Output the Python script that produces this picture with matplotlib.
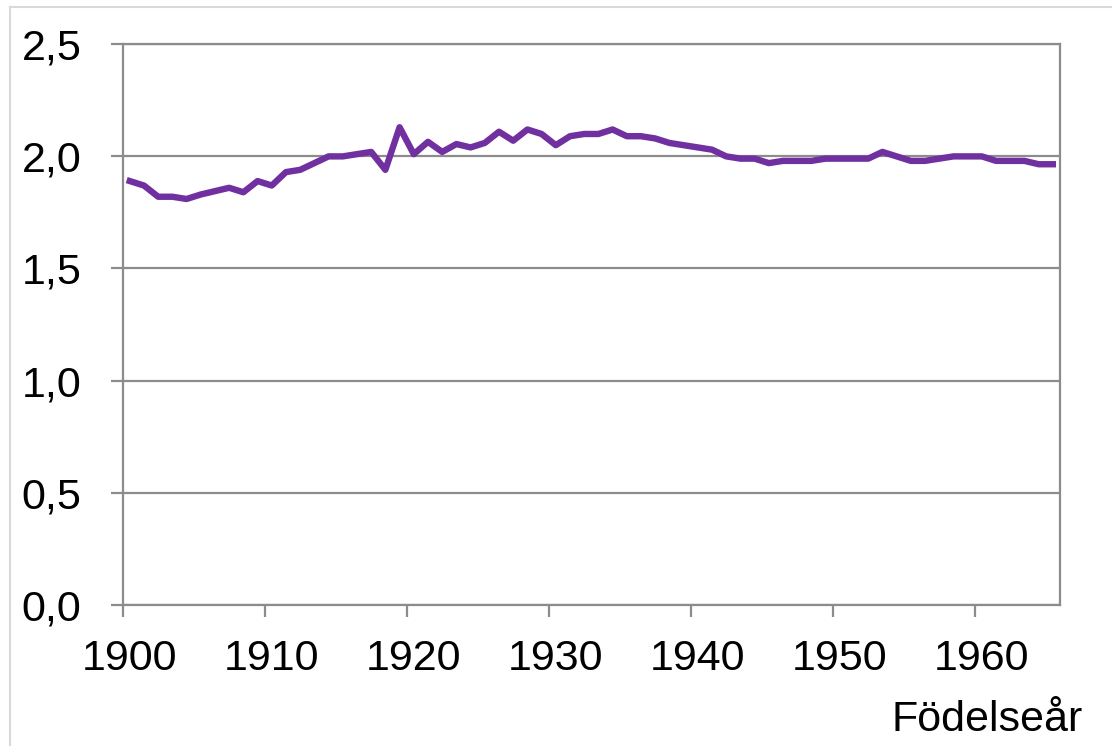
import matplotlib.pyplot as plt
import numpy as np
from matplotlib.lines import Line2D
from matplotlib.ticker import FuncFormatter
from matplotlib.transforms import ScaledTranslation

# Födelseår och värden
years = np.arange(1900, 1966)
values = [1.89, 1.87, 1.82, 1.82, 1.81, 1.83, 1.845, 1.86, 1.84, 1.89,
          1.87, 1.93, 1.94, 1.97, 2.00, 2.00, 2.01, 2.02, 1.94, 2.13,
          2.01, 2.065, 2.02, 2.055, 2.04, 2.06, 2.11, 2.07, 2.12, 2.10,
          2.05, 2.09, 2.10, 2.10, 2.12, 2.09, 2.09, 2.08, 2.06, 2.05,
          2.04, 2.03, 2.00, 1.99, 1.99, 1.97, 1.98, 1.98, 1.98, 1.99,
          1.99, 1.99, 1.99, 2.02, 2.00, 1.98, 1.98, 1.99, 2.00, 2.00,
          2.00, 1.98, 1.98, 1.98, 1.965, 1.965]
xticks = [1900, 1910, 1920, 1930, 1940, 1950, 1960]
yticks = [0.0, 0.5, 1.0, 1.5, 2.0, 2.5]

plt.rcParams['font.family'] = ['Liberation Sans', 'DejaVu Sans']

fig = plt.figure(figsize=(11.12, 7.46), dpi=100)
ax = fig.add_axes([0.1103, 0.1894, 0.9532 - 0.1103, 0.9406 - 0.1894])

grey = '#8c8c8c'
ax.plot(years + 0.5, values, color='#7030a0', linewidth=4.6, solid_joinstyle='round')

ax.set_xlim(1900, 1966)
ax.set_ylim(0, 2.5)
ax.set_xticks(xticks)
ax.set_yticks(yticks)
ax.yaxis.set_major_formatter(FuncFormatter(lambda v, p: f"{v:.1f}".replace('.', ',')))
ax.grid(axis='y', color=grey, linewidth=1.6)
ax.set_axisbelow(True)
for s in ax.spines.values():
    s.set_color(grey)
    s.set_linewidth(1.6)
ax.tick_params(axis='both', direction='out', length=8.6, width=1.6, color=grey,
               labelsize=31, labelcolor='black')
ax.tick_params(axis='y', pad=21)
ax.tick_params(axis='x', pad=16)

# etiketterna på x-axeln sitter lite till höger om strecken
shift = ScaledTranslation(7 / 100, 0, fig.dpi_scale_trans)
for lab in ax.get_xticklabels():
    lab.set_transform(lab.get_transform() + shift)

fig.text(1083 / 1112, (746 - 731) / 746, 'Födelseår', ha='right', va='baseline', fontsize=31)

# ram runt figuren
fig.add_artist(Line2D([10 / 1112, 10 / 1112], [0, 1 - 7 / 746], transform=fig.transFigure,
                      color='#d9d9d9', linewidth=1.5))
fig.add_artist(Line2D([10 / 1112, 1], [1 - 7 / 746, 1 - 7 / 746], transform=fig.transFigure,
                      color='#d9d9d9', linewidth=1.5))

fig.savefig('out.png', dpi=100)
